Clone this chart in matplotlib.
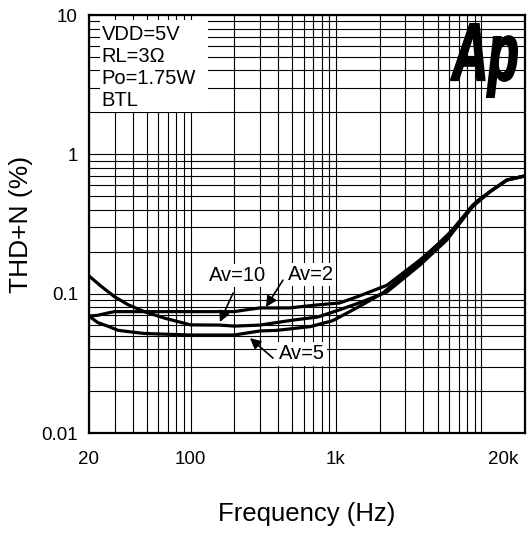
import numpy as np
import matplotlib
matplotlib.use("Agg")
import matplotlib.pyplot as plt
from matplotlib.ticker import LogLocator, NullFormatter, FixedLocator
from matplotlib.patches import Rectangle, PathPatch
from matplotlib.textpath import TextPath
from matplotlib.font_manager import FontProperties
from matplotlib.transforms import Affine2D, ScaledTranslation

plt.rcParams["font.family"] = ["Liberation Sans", "DejaVu Sans"]

# THD+N vs frequency
freq_av10 = [20, 24.5, 30, 37, 48, 67, 100, 158, 200, 300, 500, 750, 1000, 1440, 2250, 3800, 5800, 8700, 11500, 15000, 20000]
thd_av10 = [0.134, 0.112, 0.095, 0.0835, 0.0743, 0.0665, 0.0597, 0.0595, 0.0585, 0.0595, 0.0645, 0.068, 0.075, 0.0857, 0.103, 0.161, 0.243, 0.42, 0.54, 0.654, 0.70]

freq_av2 = [20, 23, 27, 30, 50, 100, 200, 250, 300, 480, 740, 1060, 1400, 2250, 3800, 5800, 8700, 11500, 15000, 20000]
thd_av2 = [0.069, 0.070, 0.0727, 0.0743, 0.0743, 0.0743, 0.0743, 0.077, 0.079, 0.079, 0.083, 0.0857, 0.095, 0.115, 0.175, 0.257, 0.43, 0.54, 0.654, 0.70]

freq_av5 = [20, 23, 27, 31.6, 39, 48, 67, 100, 200, 250, 300, 390, 666, 950, 1440, 2100, 3600, 6700, 9300, 11500, 15000, 20000]
thd_av5 = [0.069, 0.062, 0.0584, 0.0546, 0.0531, 0.0518, 0.0512, 0.0505, 0.0505, 0.0524, 0.054, 0.0545, 0.058, 0.064, 0.0806, 0.101, 0.161, 0.303, 0.46, 0.54, 0.654, 0.70]

x_ticks = [20, 100, 1000, 20000]
x_labels = ["20", "100", "1k", "20k"]
y_ticks = [0.01, 0.1, 1, 10]
y_labels = ["0.01", "0.1", "1", "10"]

conditions = ["VDD=5V", "RL=3\u03a9", "Po=1.75W", "BTL"]

# curve labels: (text, label pos, arrow tail, arrow tip)
callouts = [
    ("Av=10", (210, 0.134), (196, 0.101), (159, 0.0626)),
    ("Av=2", (674, 0.1365), (432, 0.125), (330, 0.0802)),
    ("Av=5", (584, 0.0369), (369, 0.0345), (256, 0.048)),
]

W, H = 529, 533
fig = plt.figure(figsize=(W / 100, H / 100), dpi=100)
ax = fig.add_axes([89 / W, 1 - 433 / H, 436 / W, 418 / H])
ax.set_xscale("log")
ax.set_yscale("log")
ax.set_xlim(20, 20000)
ax.set_ylim(0.01, 10)

ax.xaxis.set_major_locator(FixedLocator(x_ticks))
ax.set_xticklabels(x_labels)
ax.yaxis.set_major_locator(FixedLocator(y_ticks))
ax.set_yticklabels(y_labels)
ax.xaxis.set_minor_locator(LogLocator(base=10, subs=np.arange(1, 10), numticks=20))
ax.yaxis.set_minor_locator(LogLocator(base=10, subs=np.arange(1, 10), numticks=20))
ax.xaxis.set_minor_formatter(NullFormatter())
ax.yaxis.set_minor_formatter(NullFormatter())
ax.tick_params(which="both", length=0, labelsize=13.5, colors="black")
ax.tick_params(axis="x", pad=13)
ax.tick_params(axis="y", pad=8)
# last x label sits inside the right edge in the original
lab = ax.get_xticklabels()[-1]
lab.set_transform(lab.get_transform() + ScaledTranslation(-0.22, 0, fig.dpi_scale_trans))

ax.set_axisbelow(True)
ax.grid(which="both", color="black", lw=0.8)
for s in ax.spines.values():
    s.set_linewidth(1.6)

ax.plot(freq_av10, thd_av10, color="black", lw=2.3, solid_joinstyle="round", zorder=3)
ax.plot(freq_av2, thd_av2, color="black", lw=2.3, solid_joinstyle="round", zorder=3)
ax.plot(freq_av5, thd_av5, color="black", lw=2.3, solid_joinstyle="round", zorder=3)

# conditions box
ax.add_patch(Rectangle((11 / 436, 1 - 97 / 418), 108 / 436, 92 / 418, transform=ax.transAxes,
                       facecolor="white", edgecolor="none", zorder=2))
for i, t in enumerate(conditions):
    ax.text(12.5 / 436, 1 - (20 + 21.8 * i) / 418, t, transform=ax.transAxes,
            fontsize=14.5, va="center", ha="left", zorder=3)

for text, pos, tail, tip in callouts:
    ax.text(pos[0], pos[1], text, fontsize=14.5, ha="center", va="center", zorder=4,
            bbox=dict(facecolor="white", edgecolor="none", pad=1.5))
    ax.annotate("", xy=tip, xytext=tail, zorder=4,
                arrowprops=dict(arrowstyle="-|>", color="black", lw=1.2, mutation_scale=16,
                                shrinkA=0, shrinkB=0))

fig.text(21 / W, 1 - 224 / H, "THD+N (%)", rotation=90, fontsize=19, ha="center", va="center")
fig.text(307 / W, 1 - 521 / H, "Frequency (Hz)", fontsize=18.5, ha="center", va="baseline")

# "Ap" logo, condensed heavy italic
fp = FontProperties(family="Liberation Sans", weight="bold", style="italic")
tp = TextPath((0, 0), "Ap", size=1, prop=fp)
ext = tp.get_extents()
sx = 66 / ext.width
sy = 73 / ext.height
tr = Affine2D().translate(-ext.x0, -ext.y0).scale(sx / 100, sy / 100).translate(451 / 100, (H - 97) / 100)
fig.add_artist(PathPatch(tp, transform=tr + fig.dpi_scale_trans, facecolor="black",
                         edgecolor="black", lw=1.5, zorder=5))

fig.savefig("out.png", dpi=100)
